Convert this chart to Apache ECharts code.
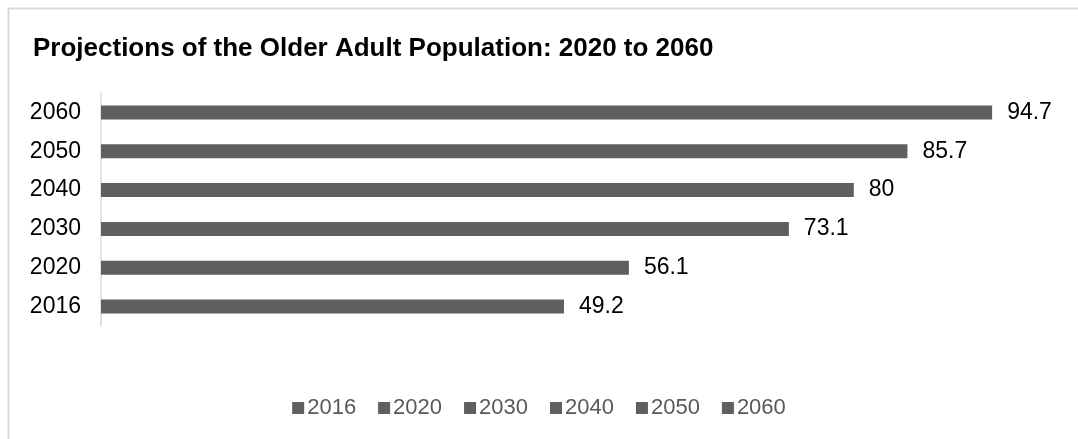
<!DOCTYPE html>
<html>
<head>
<meta charset="utf-8">
<script src="https://cdn.jsdelivr.net/npm/echarts@6/dist/echarts.min.js"></script>
<style>
  html, body { margin: 0; padding: 0; background: #fff; }
  #container { width: 1078px; height: 439px; }
</style>
</head>
<body>
<div id="container"></div>
<script>
// datos
const anios = ["2016", "2020", "2030", "2040", "2050", "2060"];
const poblacion = [49.2, 56.1, 73.1, 80, 85.7, 94.7];
const ejeMax = 100;

const colorBarra = "#5f5f5f";

// una serie por anio para que la leyenda muestre cada categoria
const series = anios.map((anio, i) => ({
  name: anio,
  type: "bar",
  stack: "total",
  barWidth: 14,
  itemStyle: { color: colorBarra },
  label: {
    show: true,
    position: "right",
    distance: 15,
    color: "#000",
    fontSize: 23,
    fontFamily: "Liberation Sans",
  },
  data: anios.map((a, j) => (j === i ? poblacion[i] : "-")),
}));

let dom = document.getElementById("container");
let myChart = echarts.init(dom, null, { renderer: "canvas" });

let option = {
  animation: false,
  textStyle: { fontFamily: "Liberation Sans" },
  title: {
    text: "Projections of the Older Adult Population: 2020 to 2060",
    left: 28,
    top: 31,
    textStyle: {
      fontSize: 26,
      fontWeight: "bold",
      color: "#000",
      fontFamily: "Liberation Sans",
    },
  },
  graphic: [
    {
      type: "rect",
      shape: { x: 8.5, y: 8.5, width: 1200, height: 600 },
      style: { fill: "none", stroke: "#d9d9d9", lineWidth: 2 },
      silent: true,
    },
  ],
  legend: {
    bottom: 15,
    left: "center",
    itemWidth: 12,
    itemHeight: 12,
    itemGap: 22,
    icon: "rect",
    textStyle: { fontSize: 22, color: "#595959", fontFamily: "Liberation Sans", padding: [0, 0, 0, -2] },
    data: anios,
  },
  grid: { left: 101, right: 36, top: 93, bottom: 113, containLabel: false },
  xAxis: {
    type: "value",
    min: 0,
    max: ejeMax,
    show: false,
  },
  yAxis: {
    type: "category",
    data: anios,
    axisLine: { show: true, lineStyle: { color: "#d9d9d9", width: 1.5 } },
    axisTick: { show: false },
    axisLabel: { fontSize: 23, color: "#000", margin: 20, fontFamily: "Liberation Sans" },
  },
  series: series,
};

myChart.setOption(option);
window.addEventListener("resize", myChart.resize);
</script>
</body>
</html>
